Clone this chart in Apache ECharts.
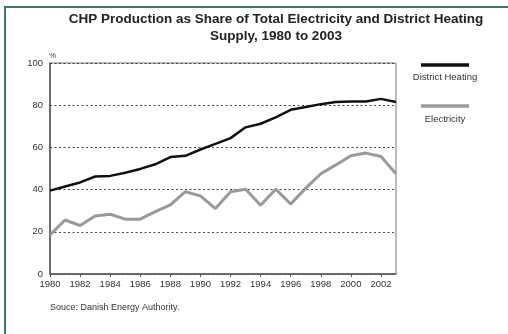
<!DOCTYPE html>
<html>
<head>
<meta charset="utf-8">
<script src="https://cdn.jsdelivr.net/npm/echarts@6/dist/echarts.min.js"></script>
<style>
  html, body { margin: 0; padding: 0; background: #fff; }
  #chart { width: 508px; height: 334px; }
</style>
</head>
<body>
<div id="chart"></div>
<script>
var years = [];
for (var y = 1980; y <= 2003; y++) { years.push(String(y)); }

var seriesNames = ['District Heating', 'Electricity'];

var districtHeating = [39.5, 41.5, 43.4, 46.2, 46.5, 48, 49.8, 52, 55.4, 56, 59, 61.7,
  64.4, 69.5, 71.2, 74.2, 77.8, 79.1, 80.5, 81.5, 81.8, 81.8, 83, 81.5];

var electricity = [18.5, 25.6, 23, 27.5, 28.3, 26, 26, 29.6, 32.8, 39, 37, 31,
  39, 40.2, 32.6, 40.2, 33.2, 40.7, 47.5, 51.7, 56, 57.3, 55.7, 47.5];

var titleText = 'CHP Production as Share of Total Electricity and District Heating\nSupply, 1980 to 2003';
var sourceText = 'Souce: Danish Energy Authority.';

var font = 'Liberation Sans';
var green = '#3d7a5c';

var myChart = echarts.init(document.getElementById('chart'));

myChart.setOption({
  animation: false,
  backgroundColor: '#fff',
  textStyle: { fontFamily: font },
  title: {
    text: titleText,
    left: 271,
    top: 6,
    textAlign: 'center',
    textStyle: { fontSize: 13.5, fontWeight: 'bold', color: '#222', lineHeight: 17, fontFamily: font }
  },
  grid: {
    left: 50, right: 112, top: 63, bottom: 60,
    show: true, borderColor: '#777', borderWidth: 1, backgroundColor: 'transparent'
  },
  xAxis: {
    type: 'category',
    data: years,
    boundaryGap: false,
    axisLine: { lineStyle: { color: '#555', width: 1.5 } },
    axisTick: { show: true, interval: 1, length: 3, lineStyle: { color: '#555' } },
    axisLabel: { interval: 1, color: '#333', fontSize: 9.5, margin: 5 },
    splitLine: { show: false }
  },
  yAxis: {
    type: 'value',
    min: 0, max: 100, interval: 20,
    name: '%',
    nameLocation: 'end',
    nameGap: 3,
    nameTextStyle: { fontSize: 8, color: '#444', align: 'left', padding: [0, 0, 0, -1] },
    axisLine: { show: true, lineStyle: { color: '#555', width: 1.5 } },
    axisTick: { show: false },
    axisLabel: { color: '#333', fontSize: 9.5, margin: 7 },
    splitLine: { show: true, lineStyle: { color: '#444', type: [2, 2.5], width: 1.2 } }
  },
  series: [
    {
      name: seriesNames[0], type: 'line', data: districtHeating,
      showSymbol: false, lineStyle: { color: '#111', width: 2.5 }, z: 3
    },
    {
      name: seriesNames[1], type: 'line', data: electricity,
      showSymbol: false, lineStyle: { color: '#999', width: 3 }, z: 2
    }
  ],
  graphic: [
    { type: 'rect', shape: { x: 4, y: 6, width: 2, height: 330 }, style: { fill: green } },
    { type: 'rect', shape: { x: 4, y: 6, width: 510, height: 2 }, style: { fill: green } },
    { type: 'line', shape: { x1: 421, y1: 65, x2: 469, y2: 65 }, style: { stroke: '#111', lineWidth: 3.5 } },
    { type: 'text', x: 445, y: 77, style: { text: seriesNames[0], fill: '#333', font: '9.5px ' + font, textAlign: 'center', textVerticalAlign: 'middle' } },
    { type: 'line', shape: { x1: 421, y1: 106, x2: 469, y2: 106 }, style: { stroke: '#999', lineWidth: 3.5 } },
    { type: 'text', x: 445, y: 119, style: { text: seriesNames[1], fill: '#333', font: '9.5px ' + font, textAlign: 'center', textVerticalAlign: 'middle' } },
    { type: 'text', x: 50, y: 308, style: { text: sourceText, fill: '#333', font: '9px ' + font, textVerticalAlign: 'middle' } }
  ]
});
</script>
</body>
</html>
